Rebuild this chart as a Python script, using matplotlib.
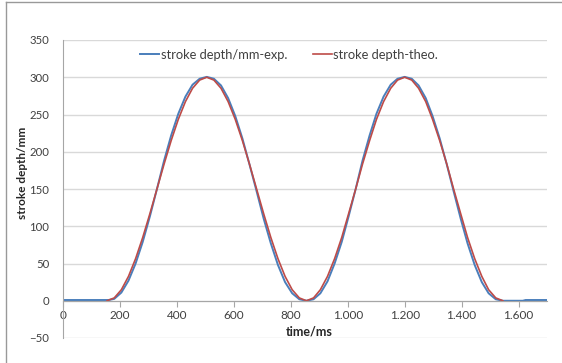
import matplotlib.pyplot as plt
from matplotlib.lines import Line2D
from matplotlib.ticker import FuncFormatter

plt.rcParams['font.family'] = ['Lato', 'DejaVu Sans']

# theoretical stroke depth (mm) over time (ms)
theo_t = [155, 180, 205, 230, 255, 280, 305, 330, 355, 380, 405, 430, 455, 480, 505,
          530, 555, 580, 605, 630, 655, 680, 705, 730, 755, 780, 805, 830, 855,
          880, 904, 929, 954, 979, 1003, 1028, 1052, 1077, 1101, 1126, 1151, 1175, 1200,
          1225, 1249, 1274, 1298, 1323, 1348, 1372, 1397, 1421, 1446, 1471, 1495, 1520, 1545]
theo_y = [0, 3.8, 14.8, 32.7, 56.5, 84.9, 116.6, 150, 183.4, 215.1, 243.5, 267.3, 285.2, 296.2, 300,
          296.2, 285.2, 267.3, 243.5, 215.1, 183.4, 150, 116.6, 84.9, 56.5, 32.7, 14.8, 3.8, 0,
          3.8, 14.8, 32.7, 56.5, 84.9, 116.6, 150, 183.4, 215.1, 243.5, 267.3, 285.2, 296.2, 300,
          296.2, 285.2, 267.3, 243.5, 215.1, 183.4, 150, 116.6, 84.9, 56.5, 32.7, 14.8, 3.8, 0]

# measured stroke depth (mm)
exp_t = [0, 160, 180, 205, 230, 255, 280, 305, 330, 355, 380, 405, 430, 455, 480, 505,
         530, 555, 580, 605, 630, 655, 680, 705, 730, 755, 780, 805, 830, 855,
         880, 904, 929, 954, 979, 1003, 1028, 1052, 1077, 1101, 1126, 1151, 1175, 1200,
         1225, 1249, 1274, 1298, 1323, 1348, 1372, 1397, 1421, 1446, 1471, 1495, 1520, 1545,
         1615, 1625, 1700]
exp_y = [1, 1, 2.5, 11, 27, 50, 79, 113, 150, 188, 222, 251, 274, 290, 298, 300.5,
         298, 289, 272, 248, 218, 183, 147, 110, 77, 48, 25, 10, 2, 0,
         2, 10, 26, 50, 79, 113, 150, 188, 222, 251, 274, 290, 298, 300.5,
         298, 289, 272, 248, 218, 183, 147, 110, 77, 48, 25, 10, 2, 0,
         0, 1, 1]

x_ticks = [0, 200, 400, 600, 800, 1000, 1200, 1400, 1600]
y_ticks = [-50, 0, 50, 100, 150, 200, 250, 300, 350]

fig = plt.figure(figsize=(5.62, 3.63), dpi=100)
ax = fig.add_axes([63 / 562, 25 / 363, 484 / 562, 298 / 363])

ax.plot(exp_t, exp_y, color='#4a7ebb', lw=1.4, label='stroke depth/mm-exp.')
ax.plot(theo_t, theo_y, color='#be4b48', lw=1.2, label='stroke depth-theo.')

ax.set_xlim(0, 1700)
ax.set_ylim(-50, 350)
ax.set_xticks(x_ticks)
ax.set_yticks(y_ticks)
ax.xaxis.set_major_formatter(FuncFormatter(lambda v, p: f'{int(v):,}'.replace(',', '.')))
ax.grid(axis='y', color='#d9d9d9', lw=1)
ax.set_axisbelow(True)

for s in ['top', 'right']:
    ax.spines[s].set_visible(False)
ax.spines['bottom'].set_position(('data', 0))
ax.spines['bottom'].set_color('#a6a6a6')
ax.spines['left'].set_color('#a6a6a6')
ax.tick_params(axis='x', length=4, color='#a6a6a6', labelsize=8.5, labelcolor='#404040', pad=3)
ax.tick_params(axis='y', length=0, labelsize=8.2, labelcolor='#404040', pad=10)

fig.text(309 / 562, 1 - 331 / 363, 'time/ms', ha='center', va='center',
         fontsize=9, fontweight='bold', color='#262626')
fig.text(23 / 562, 1 - 173 / 363, 'stroke depth/mm', ha='center', va='center',
         rotation=90, fontsize=8.5, fontweight='bold', color='#262626')

ax.legend(loc='upper center', bbox_to_anchor=(0.467, 1.01), ncol=2, frameon=False,
          fontsize=9.3, handlelength=1.5, handletextpad=0.1, columnspacing=2.0,
          labelcolor='#404040')

# outer chart border (only top/left visible in the crop)
fig.add_artist(Line2D([6 / 562, 6 / 562], [0, 1 - 2 / 363], color='#999999', lw=1))
fig.add_artist(Line2D([6 / 562, 1], [1 - 2 / 363, 1 - 2 / 363], color='#999999', lw=1))

fig.savefig('out.png', dpi=100)
